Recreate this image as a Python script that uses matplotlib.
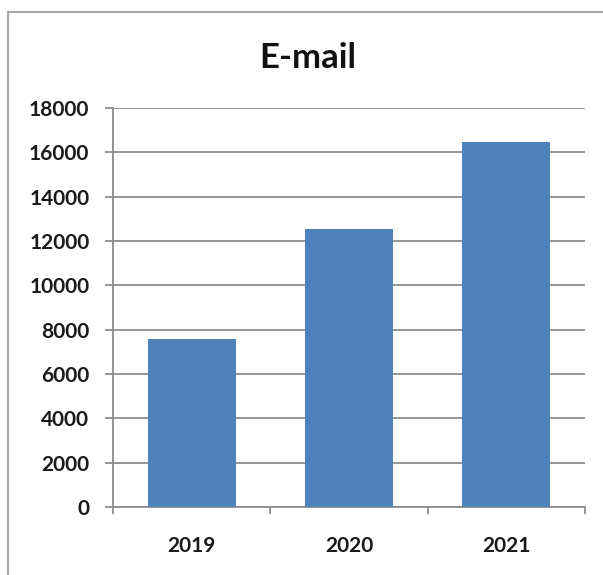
import numpy as np
import matplotlib.pyplot as plt
from matplotlib.lines import Line2D

years = ["2019", "2020", "2021"]
emails = [7580, 12530, 16450]
yticks = list(range(0, 18001, 2000))

plt.rcParams['font.family'] = ['Lato', 'DejaVu Sans']

fig = plt.figure(figsize=(6.03, 5.75), dpi=100)
W, H = 603, 575

# gray frame, only top and left visible like the cropped original
fig.add_artist(Line2D([8 / W, 8 / W], [0, (H - 12) / H], color="#a6a6a6", lw=1.5))
fig.add_artist(Line2D([8 / W, 1], [(H - 12) / H, (H - 12) / H], color="#a6a6a6", lw=1.5))

ax = fig.add_axes([113 / W, 68 / H, 472 / W, 399 / H])

x = np.arange(len(years))
ax.bar(x, emails, width=0.56, color="#4f81bd", zorder=3)

ax.set_xlim(-0.5, len(years) - 0.5)
ax.set_ylim(0, 18000)
ax.set_yticks(yticks)
ax.set_yticklabels([str(t) for t in yticks])
ax.yaxis.grid(True, color="#8c8c8c", lw=1.3, zorder=0)

ax.set_xticks(x)
ax.set_xticklabels(years)
ax.set_xticks(np.arange(-0.5, len(years)), minor=True)
ax.tick_params(axis="x", which="major", length=0, pad=21)
ax.tick_params(axis="x", which="minor", length=5, width=1.3, color="#8c8c8c")
ax.tick_params(axis="y", length=6, width=1.3, color="#8c8c8c", pad=11)

for lab in ax.get_xticklabels() + ax.get_yticklabels():
    lab.set_fontsize(15)
    lab.set_fontweight("bold")
    lab.set_color("#1a1a1a")

for side in ["top", "right"]:
    ax.spines[side].set_visible(False)
for side in ["left", "bottom"]:
    ax.spines[side].set_color("#8c8c8c")
    ax.spines[side].set_linewidth(1.3)

fig.text(308 / W, (H - 68) / H, "E-mail", ha="center", va="baseline",
         fontsize=25, fontweight="bold", color="#111111")

fig.savefig("out.png", dpi=100)
